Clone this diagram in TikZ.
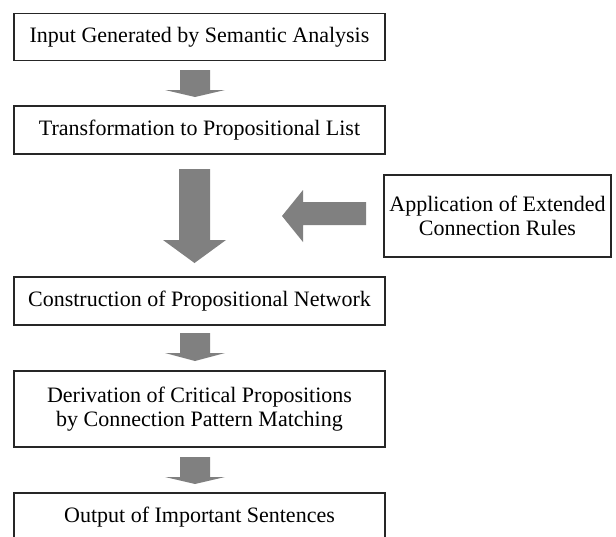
\documentclass[tikz,border=0pt]{standalone}
\usepackage{fontspec}
\setmainfont{Liberation Serif}
\begin{document}
\begin{tikzpicture}[x=1pt,y=-1pt,
  box/.style={draw=black!85, line width=1.3pt, fill=white, inner sep=0pt, align=center, font=\fontsize{22}{23.5}\selectfont},
  blockarrow/.style={fill=black!50, draw=none}]
\useasboundingbox (0,0) rectangle (616,536);
\clip (0,0) rectangle (616,536);
\node[box, minimum width=371pt, minimum height=47pt] (b1) at (199.5,37) {Input Generated by Semantic Analysis};
\node[box, minimum width=371pt, minimum height=48pt] (b2) at (199.5,130) {Transformation to Propositional List};
\node[box, minimum width=371pt, minimum height=48pt] (b3) at (199.5,301) {Construction of Propositional Network};
\node[box, minimum width=371pt, minimum height=76pt] (b4) at (199.5,409) {Derivation of Critical Propositions\\by Connection Pattern Matching};
\node[box, minimum width=371pt, minimum height=48pt] (b5) at (199.5,517) {Output of Important Sentences};
\node[box, minimum width=227pt, minimum height=82pt] (side) at (497.5,216) {Application of Extended\\Connection Rules};
% down arrows
\fill[blockarrow] (180,70) -- (210,70) -- (210,90) -- (225,90) -- (195,97) -- (165,90) -- (180,90) -- cycle;
\fill[blockarrow] (179,169) -- (210,169) -- (210,240) -- (226,240) -- (194.5,263) -- (163,240) -- (179,240) -- cycle;
\fill[blockarrow] (180,333) -- (210,333) -- (210,353) -- (225,353) -- (195,361) -- (165,353) -- (180,353) -- cycle;
\fill[blockarrow] (180,457) -- (210,457) -- (210,477) -- (225,477) -- (195,484) -- (165,477) -- (180,477) -- cycle;
% left arrow
\fill[blockarrow] (366,202) -- (366,225) -- (303,225) -- (303,242) -- (282,216) -- (303,190) -- (303,202) -- cycle;
\end{tikzpicture}
\end{document}
